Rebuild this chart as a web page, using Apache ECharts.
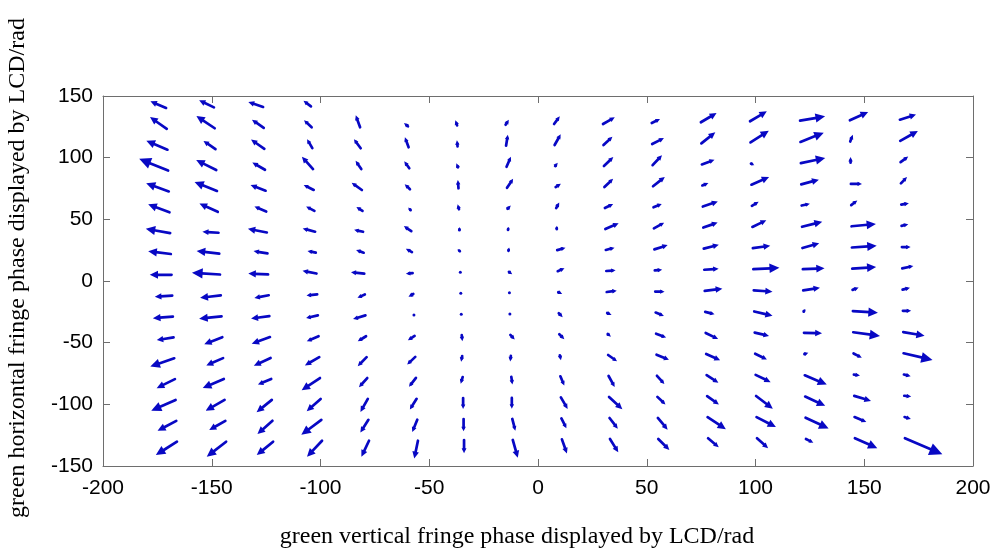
<!DOCTYPE html>
<html lang="en">
<head>
<meta charset="UTF-8">
<title>quiver</title>
<script src="https://cdn.jsdelivr.net/npm/echarts@6/dist/echarts.min.js"></script>
</head>
<body style="margin:0">
<div id="main" style="width:1006px;height:554px"></div>
<script>
// arrow tails of each column: x at top / bottom row, y of top / bottom row
var colXTop = [-171.0, -149.0, -126.4, -104.4, -81.8, -59.8, -37.2, -14.9, 7.4, 29.9, 52.3, 74.9, 97.5, 120.5, 143.4, 166.4];
var colXBot = [-166.0, -143.4, -121.8, -99.3, -77.7, -55.2, -34.0, -11.6, 11.0, 33.1, 55.3, 78.2, 100.7, 123.2, 145.7, 168.7];
var colYTop = [140.3, 140.8, 141.1, 141.6, 124.6, 125.4, 126.2, 126.7, 127.3, 127.3, 128.1, 128.7, 129.5, 130.0, 130.3, 130.8];
var colYBot = [-130.3, -130.3, -130.3, -129.5, -129.5, -129.5, -128.9, -128.9, -128.4, -128.1, -128.1, -127.5, -127.5, -128.1, -127.5, -127.5];

// horizontal component, one list per column, top row first
var colU = [
    [-7.2, -7.7, -9.7, -13.3, -10.4, -9.8, -11.2, -10.4, -10.0, -8.0, -9.2, -7.7, -11.0, -8.4, -11.2, -8.6, -9.7],
    [-6.8, -8.4, -5.5, -9.2, -10.3, -8.4, -7.4, -10.4, -12.9, -9.5, -10.3, -8.3, -7.7, -9.7, -8.7, -7.4, -8.9],
    [-6.8, -5.4, -6.1, -5.8, -6.9, -5.4, -8.7, -6.4, -9.1, -6.6, -8.4, -8.4, -7.7, -6.1, -7.0, -6.9, -7.5],
    [-3.4, -3.5, -2.4, -5.1, -4.6, -3.8, -5.7, -3.8, -6.4, -4.9, -5.4, -5.4, -6.6, -8.4, -6.4, -9.2, -6.9],
    [-2.0, -3.1, -2.6, -4.7, -2.8, -4.1, -3.5, -6.1, -3.4, -5.7, -3.8, -4.1, -3.8, -3.4, -3.7, -3.5],
    [-1.8, -1.7, -2.3, -2.4, -1.1, -3.4, -2.8, -3.1, -2.2, 0, -3.1, -3.7, -3.2, -3.1, -2.3, -1.7],
    [-0.8, -0.3, -0.8, -0.3, -0.6, 0, -1.1, 0, 0, 0, 0.3, -0.5, -0.9, 0, 0, 0],
    [1.5, 0.8, 2.0, 2.8, 1.5, 0.3, 0.3, 1.5, 0, 0, 2.0, -0.3, 0.5, 0, 1.4, 2.3],
    [2.6, 2.8, 1.2, 2.4, 1.4, 0.1, 3.8, 3.1, 1.8, 1.8, 2.3, 0.5, 1.8, 3.1, 2.3, 2.3],
    [5.4, 4.1, 4.3, 4.0, 3.8, 6.1, 4.0, 4.3, 4.6, 2.0, 1.5, 4.1, 2.8, 6.1, 3.8, 3.8],
    [3.8, 5.4, 4.3, 5.4, 3.8, 4.7, 6.1, 3.4, 4.3, 3.8, 4.6, 5.7, 3.4, 3.7, 4.5, 5.1],
    [7.2, 6.4, 5.8, 2.8, 6.9, 6.6, 6.9, 6.6, 8.1, 4.3, 5.7, 6.4, 5.4, 5.4, 8.4, 4.9],
    [7.7, 8.4, 1.5, 8.1, 3.1, 6.4, 8.0, 12.0, 8.6, 8.4, 6.6, 5.4, 6.9, 7.7, 8.9, 5.1],
    [11.5, 10.7, 11.2, 8.1, 3.8, 9.3, 7.7, 10.0, 7.7, 0.8, 8.3, 1.8, 10.1, 9.2, 10.6, 3.4],
    [8.4, 1.2, 0, 5.1, 2.8, 11.2, 11.4, 11.0, 2.8, 11.5, 12.3, 3.8, 2.8, 7.7, 5.4, 10.3],
    [7.4, 8.1, 3.5, 2.8, 3.5, 3.1, 4.0, 5.1, 3.4, 3.8, 9.8, 13.3, 3.1, 3.2, 2.9, 17.2]
];

// vertical component, same layout
var colV = [
    [5.4, 9.5, 7.3, 9.5, 6.7, 6.5, 3.5, 2.2, 0, -0.8, -1.4, -2.2, -6.7, -7.3, -8.7, -8.1, -10.8],
    [5.7, 10.0, 6.7, 8.1, 7.3, 6.7, 0.8, 2.2, 1.4, -1.9, -1.9, -5.7, -5.9, -7.3, -8.7, -7.5, -12.2],
    [4.1, 6.7, 7.5, 5.9, 4.6, 4.1, 3.0, 1.9, 0.6, -2.2, -1.9, -5.4, -6.2, -4.6, -10.0, -10.8, -10.8],
    [4.6, 5.7, 7.3, 10.0, 4.1, 3.5, 2.7, 1.4, 2.2, -0.8, -2.2, -4.1, -6.7, -10.0, -10.0, -12.2, -13.0],
    [9.7, 7.3, 6.7, 5.9, 3.2, 1.6, 2.2, 1.1, -2.7, -3.0, -4.1, -7.3, -7.5, -10.5, -10.3, -13.0],
    [2.7, 8.1, 5.7, 4.1, 2.2, 4.1, 2.7, -0.6, -2.2, -0.6, -3.5, -6.2, -7.3, -8.7, -10.0, -14.4],
    [4.1, 4.9, 3.2, 6.7, 4.1, 2.7, 1.6, 0, 0, 0, -4.9, -4.6, -5.4, -8.9, -10.0, -10.8],
    [4.1, 8.9, 8.1, 7.3, 2.7, 2.2, 2.7, -1.9, 0, 0, -3.8, -4.6, -6.2, -8.7, -9.5, -14.4],
    [6.2, 8.7, 2.7, 2.7, 4.6, 2.7, 1.9, 2.4, -1.4, -3.2, -4.1, -4.1, -7.5, -9.5, -8.1, -11.4],
    [5.4, 6.7, 7.3, 6.7, 3.2, 4.6, 1.9, 0.6, 1.1, -1.6, -2.2, -5.1, -8.9, -10.0, -8.7, -10.8],
    [3.2, 4.9, 8.1, 7.5, 2.7, 4.6, 3.5, 0.6, -0.2, -2.7, -3.2, -4.1, -6.7, -6.2, -9.5, -8.9],
    [7.5, 8.9, 3.8, 1.9, 4.1, 4.1, 3.2, 0.8, 1.6, -1.9, -4.9, -5.1, -6.2, -6.7, -9.7, -7.3],
    [8.1, 9.5, -1.4, 6.2, 3.2, 5.4, 1.9, 1.1, -1.1, -3.5, -2.7, -4.6, -5.9, -10.3, -8.1, -8.1],
    [3.5, 7.5, 4.1, 3.8, 1.4, 4.1, 3.8, 0.8, 2.2, 2.2, -0.2, 1.1, -7.5, -7.5, -8.7, -3.0],
    [6.7, 5.4, 4.6, 0, 3.8, 1.9, 1.4, 1.4, 1.9, -1.4, -3.0, -3.5, -0.6, -4.1, -4.1, -8.1],
    [4.1, 8.1, 4.6, 5.1, 1.1, 1.4, 0, 1.9, 1.4, 0, -3.0, -5.4, -1.4, -0.6, -1.6, -13.0]
];

var xTitle = 'green vertical fringe phase displayed by LCD/rad';
var yTitle = 'green horizontal fringe phase displayed by LCD/rad';

var arrowColor = '#0808c4';
var axisColor = '#6e6e6e';
var titleFont = '24px "Liberation Serif", "Times New Roman", serif';

var arrows = [];
for (var i = 0; i < colU.length; i++) {
    var n = colU[i].length;
    for (var j = 0; j < n; j++) {
        var t = j / (n - 1);
        var x = colXTop[i] + (colXBot[i] - colXTop[i]) * t;
        var y = colYTop[i] + (colYBot[i] - colYTop[i]) * t;
        arrows.push([x, y, colU[i][j], colV[i][j]]);
    }
}

function renderArrow(params, api) {
    var x = api.value(0), y = api.value(1);
    var u = api.value(2), v = api.value(3);
    var p0 = api.coord([x, y]);
    var p1 = api.coord([x + u, y + v]);
    var dx = p1[0] - p0[0], dy = p1[1] - p0[1];
    var len = Math.sqrt(dx * dx + dy * dy);
    if (len < 2) {
        return {
            type: 'circle',
            shape: {cx: p0[0], cy: p0[1], r: 1.5},
            style: {fill: arrowColor}
        };
    }
    var ux = dx / len, uy = dy / len;
    var hl = Math.min(Math.max(len * 0.38, 4.5), 13);
    hl = Math.min(hl, len);
    var hw = hl * 0.48;
    var bx = p1[0] - ux * hl, by = p1[1] - uy * hl;
    return {
        type: 'group',
        children: [
            {
                type: 'line',
                shape: {x1: p0[0], y1: p0[1], x2: bx + ux, y2: by + uy},
                style: {stroke: arrowColor, lineWidth: 2.7, lineCap: 'round'}
            },
            {
                type: 'polygon',
                shape: {points: [[p1[0], p1[1]], [bx - uy * hw, by + ux * hw], [bx + uy * hw, by - ux * hw]]},
                style: {fill: arrowColor}
            }
        ]
    };
}

function boxAxis(min, max, pos, showLabel) {
    return {
        type: 'value',
        min: min,
        max: max,
        interval: 50,
        position: pos,
        axisLine: {show: true, onZero: false, lineStyle: {color: axisColor, width: 1}},
        axisTick: {show: true, inside: true, length: 7, lineStyle: {color: axisColor}},
        axisLabel: {
            show: showLabel,
            color: '#000',
            fontSize: 21,
            fontFamily: 'Liberation Sans, Arial',
            margin: 11
        },
        splitLine: {show: false}
    };
}

var myChart = echarts.init(document.getElementById('main'));

var xBottom = boxAxis(-200, 200, 'bottom', true);
xBottom.axisLabel.margin = 12;
var yLeft = boxAxis(-150, 150, 'left', true);
yLeft.axisLabel.margin = 10;

var option = {
    animation: false,
    grid: {left: 103, right: 33, top: 96, bottom: 88},
    xAxis: [xBottom, boxAxis(-200, 200, 'top', false)],
    yAxis: [yLeft, boxAxis(-150, 150, 'right', false)],
    graphic: [
        {
            type: 'text',
            x: 517,
            y: 537,
            style: {text: xTitle, font: titleFont, fill: '#000', align: 'center', verticalAlign: 'middle'}
        },
        {
            type: 'text',
            x: 18,
            y: 268,
            rotation: Math.PI / 2,
            style: {text: yTitle, font: titleFont, fill: '#000', align: 'center', verticalAlign: 'middle'}
        }
    ],
    series: [
        {
            type: 'custom',
            renderItem: renderArrow,
            encode: {x: 0, y: 1},
            data: arrows
        }
    ]
};

myChart.setOption(option);
</script>
</body>
</html>
